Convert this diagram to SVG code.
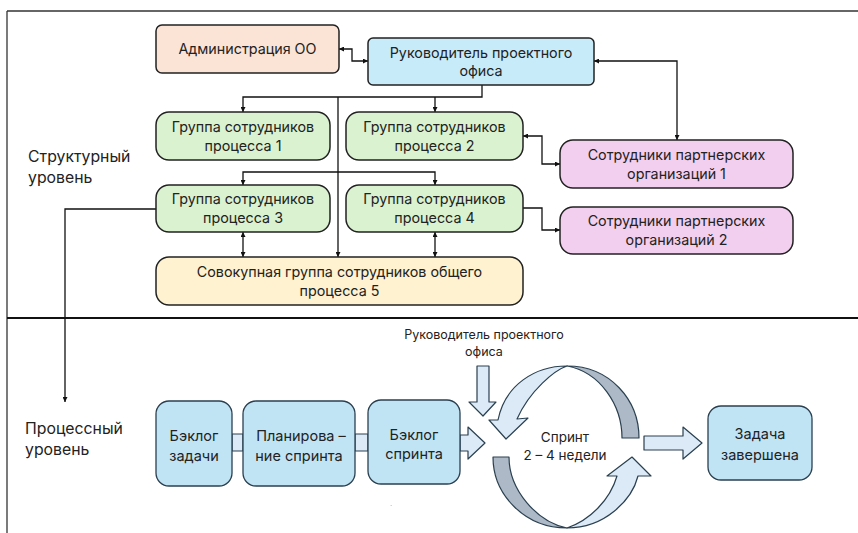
<svg xmlns="http://www.w3.org/2000/svg" width="858" height="533" viewBox="0 0 858 533">
<defs>
<marker id="ah" viewBox="0 0 10 10" refX="10" refY="5" markerWidth="5" markerHeight="5" orient="auto-start-reverse" markerUnits="userSpaceOnUse">
<path d="M0,0 L10,5 L0,10 z" fill="#111"/>
</marker>
<style>
.box{stroke:#222;stroke-width:1.5}
.pbox{stroke:#2a4050;stroke-width:1.3;fill:#C1E4F5}
.t{font-family:Inter,"Liberation Sans",sans-serif;font-size:14.3px;fill:#222;text-anchor:middle}
.pt{font-family:Inter,"Liberation Sans",sans-serif;font-size:14.5px;fill:#222;text-anchor:middle}
.lbl{font-family:Inter,"Liberation Sans",sans-serif;font-size:15.8px;fill:#222}
.c{fill:none;stroke:#111;stroke-width:1.3}
.ba{stroke:#2a4050;stroke-width:1.2;fill:#DCE9F6;stroke-linejoin:round}
.dk{stroke:#2a4050;stroke-width:1.2;fill:#ADB9C6;stroke-linejoin:round}
</style>
</defs>
<rect width="858" height="533" fill="#fff"/>
<g id="frame" fill="none" stroke="#333">
<path d="M7,11 H858" stroke-width="1.3"/>
<path d="M7,11 V533" stroke-width="1.3"/>
<path d="M7,318 H858" stroke-width="2.2" stroke="#111"/>
</g>
<g id="labels">
<text class="lbl" x="28" y="162">Структурный</text>
<text class="lbl" x="28" y="183">уровень</text>
<text class="lbl" x="25" y="434">Процессный</text>
<text class="lbl" x="25" y="455">уровень</text>
</g>
<g id="connectors">
<path class="c" d="M339,49 H352 V61 H368" marker-start="url(#ah)" marker-end="url(#ah)"/>
<path class="c" d="M594,61 H677 V140" marker-start="url(#ah)" marker-end="url(#ah)"/>
<path class="c" d="M482,85 V97 H243 V112" marker-end="url(#ah)"/>
<path class="c" d="M435,97 V112" marker-end="url(#ah)"/>
<path class="c" d="M338,97 V257" marker-end="url(#ah)"/>
<path class="c" d="M243,185 V172 H435 V185" marker-start="url(#ah)" marker-end="url(#ah)"/>
<path class="c" d="M243,232 V257" marker-start="url(#ah)" marker-end="url(#ah)"/>
<path class="c" d="M435,232 V257" marker-start="url(#ah)" marker-end="url(#ah)"/>
<path class="c" d="M523,136 H542 V164 H560" marker-start="url(#ah)" marker-end="url(#ah)"/>
<path class="c" d="M523,208 H542 V230 H560" marker-end="url(#ah)"/>
<path class="c" d="M156,209 H65 V402" marker-end="url(#ah)"/>
</g>
<g id="admin">
<rect class="box" x="156" y="25" width="183" height="48" rx="6" fill="#FBE3D6"/>
<text class="t" x="247.5" y="54">Администрация ОО</text>
</g>
<g id="head">
<rect class="box" x="368" y="38" width="226" height="47" rx="5" fill="#C8EBFA"/>
<text class="t" x="481" y="58">Руководитель проектного</text>
<text class="t" x="481" y="76">офиса</text>
</g>
<g id="g1">
<rect class="box" x="156" y="112" width="174" height="48" rx="13" fill="#DAF2D0"/>
<text class="t" x="243" y="132">Группа сотрудников</text>
<text class="t" x="243" y="151">процесса 1</text>
</g>
<g id="g2">
<rect class="box" x="346" y="112" width="177" height="48" rx="13" fill="#DAF2D0"/>
<text class="t" x="434.5" y="132">Группа сотрудников</text>
<text class="t" x="434.5" y="151">процесса 2</text>
</g>
<g id="g3">
<rect class="box" x="156" y="185" width="174" height="47" rx="13" fill="#DAF2D0"/>
<text class="t" x="243" y="204">Группа сотрудников</text>
<text class="t" x="243" y="223">процесса 3</text>
</g>
<g id="g4">
<rect class="box" x="346" y="185" width="177" height="47" rx="13" fill="#DAF2D0"/>
<text class="t" x="434.5" y="204">Группа сотрудников</text>
<text class="t" x="434.5" y="223">процесса 4</text>
</g>
<g id="g5">
<rect class="box" x="156" y="257" width="367" height="48" rx="13" fill="#FEF2D0"/>
<text class="t" x="339.5" y="277">Совокупная группа сотрудников общего</text>
<text class="t" x="339.5" y="296">процесса 5</text>
</g>
<g id="p1">
<rect class="box" x="560" y="140" width="233" height="48" rx="13" fill="#F2CFEE"/>
<text class="t" x="676.5" y="160">Сотрудники партнерских</text>
<text class="t" x="676.5" y="179">организаций 1</text>
</g>
<g id="p2">
<rect class="box" x="560" y="207" width="233" height="47" rx="13" fill="#F2CFEE"/>
<text class="t" x="676.5" y="226">Сотрудники партнерских</text>
<text class="t" x="676.5" y="245">организаций 2</text>
</g>
<g id="process-links">
<rect class="ba" x="232" y="434" width="11" height="17"/>
<rect class="ba" x="355" y="434" width="13" height="17"/>
<path class="ba" d="M460,435 H468 V427 L485,443 L468,459 V451 H460 Z"/>
<path class="ba" d="M477,366 H489 V402 H496 L483,416 L469,402 H477 Z"/>
<path class="ba" d="M644,436 H683 V427 L702,443 L683,459 V450 H644 Z"/>
</g>
<g id="backlog-task">
<rect class="pbox" x="156" y="401" width="76" height="85" rx="13"/>
<text class="pt" x="194" y="441">Бэклог</text>
<text class="pt" x="194" y="461">задачи</text>
</g>
<g id="planning">
<rect class="pbox" x="243" y="401" width="112" height="85" rx="13"/>
<text class="pt" x="301" y="441">Планирова –</text>
<text class="pt" x="299" y="461">ние спринта</text>
</g>
<g id="backlog-sprint">
<rect class="pbox" x="368" y="400" width="92" height="84" rx="13"/>
<text class="pt" x="414" y="440">Бэклог</text>
<text class="pt" x="414" y="459">спринта</text>
</g>
<g id="pm-label">
<text class="t" x="484" y="339" style="font-size:12.5px">Руководитель проектного</text>
<text class="t" x="484" y="356" style="font-size:12.5px">офиса</text>
</g>
<g id="sprint">
<path class="ba" d="M498,420 C505,385 535,366 567,366 C555,370 530,390 517,419 L528,418 L506,439 L489,420 Z"/>
<path class="dk" d="M567,366 C610,366 639,400 639,438 L622,438 C622,405 600,372 567,366 Z"/>
<path class="dk" d="M493,457 C493,495 525,528 567,528 C537,522 509,490 509,457 Z"/>
<path class="ba" d="M567,528 C605,528 632,500 638,476 L651,476 L632,457 L607,476 L617,476 C610,500 590,520 567,528 Z"/>
<text class="t" x="565" y="442" style="font-size:13.5px">Спринт</text>
<text class="t" x="565" y="460" style="font-size:13.5px">2 – 4 недели</text>
</g>
<g id="done">
<rect class="pbox" x="708" y="406" width="104" height="74" rx="13"/>
<text class="pt" x="760" y="439">Задача</text>
<text class="pt" x="760" y="460">завершена</text>
</g>
<text x="390" y="506" style="font-family:'Liberation Sans',sans-serif;font-size:8px;fill:#999">.</text>
</svg>
